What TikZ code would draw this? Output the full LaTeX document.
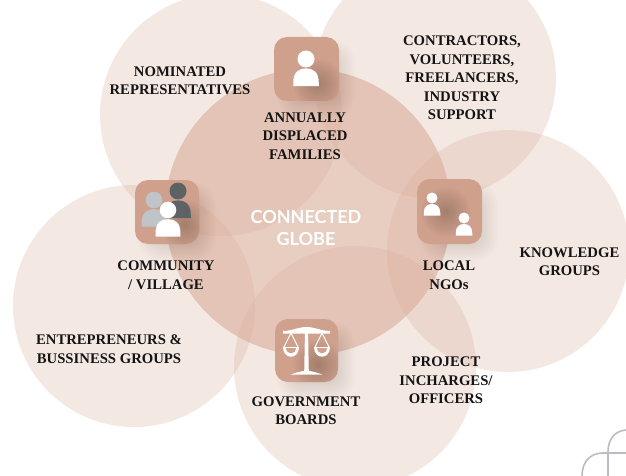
\documentclass[tikz,border=0pt]{standalone}
\usepackage{fontspec}
\setmainfont{Liberation Serif}
\newfontfamily\latofont{Lato}
\usetikzlibrary{calc}
\definecolor{tilec}{HTML}{CFA08C}
\definecolor{blobc}{HTML}{D9AC98}
\definecolor{darkp}{HTML}{5F6265}
\definecolor{lightp}{HTML}{BEC4C8}
\definecolor{logoc}{HTML}{BDBBC6}
\tikzset{
  x=1pt,y=-1pt,
  outer/.style={circle,fill=blobc,fill opacity=0.27,inner sep=0,minimum size=242pt},
  core/.style={circle,fill=blobc,fill opacity=0.6,inner sep=0,minimum size=286pt},
  lab/.style={font=\bfseries\fontsize{14.7}{18.5}\selectfont,align=center,text=black!92,inner sep=0},
  tile/.style={fill=tilec,rounded corners=13pt},
}
\newcommand{\softshadow}[2]{%
  \foreach \k in {0,...,13}{
    \fill[black,opacity=0.009,rounded corners={10pt+\k*1pt}]
      ($(#1,#2)+({-20-\k*1.5},{-20-\k*1.5})$) rectangle ($(#1,#2)+({20+\k*1.5},{20+\k*1.5})$);
  }}
\newcommand{\innershade}[6]{%
  \begin{scope}
  \clip[rounded corners=13pt] (#1,#2) rectangle (#3,#4);
  \foreach \k in {0,...,9}{\fill[black,opacity=0.02] (#5,#6) circle[radius={3+\k*2.4}];}
  \end{scope}}
\newcommand{\personicon}[4]{%
  \fill[#4] (#1,#2) circle[radius=#3];
  \fill[#4] ({#1-1.5*#3},{#2+3.2*#3}) -- ({#1-1.5*#3},{#2+2.75*#3})
     .. controls ({#1-1.5*#3},{#2+1.5*#3}) and ({#1-0.8*#3},{#2+1.1*#3}) .. (#1,{#2+1.1*#3})
     .. controls ({#1+0.8*#3},{#2+1.1*#3}) and ({#1+1.5*#3},{#2+1.5*#3}) .. ({#1+1.5*#3},{#2+2.75*#3})
     -- ({#1+1.5*#3},{#2+3.2*#3}) -- cycle;}
\begin{document}
\begin{tikzpicture}
\useasboundingbox (0,0) rectangle (626,476);
\fill[white] (0,0) rectangle (626,476);
\begin{scope}
\clip (0,0) rectangle (626,476);
\node[outer] (c1) at (221,115) {};
\node[outer] (c2) at (435,78) {};
\node[outer] (c3) at (508,251) {};
\node[outer] (c4) at (355,367) {};
\node[outer] (c5) at (134,306) {};
\node[core] (c0) at (308,212) {};
\draw[logoc,line width=1.6pt] (626,430) .. controls (614,431) and (608,440) .. (608,452) -- (608,476);
\draw[logoc,line width=1.6pt] (582,476) .. controls (582,462) and (590,453) .. (603,453) -- (626,453);
\end{scope}
% shadows
\softshadow{316}{79}
\softshadow{177}{222}
\softshadow{459}{222}
\softshadow{316}{361}
% tiles
\fill[tile] (274,37) rectangle (339,101);
\fill[tile] (135,180) rectangle (199,244);
\fill[tile] (417,179) rectangle (482,244);
\fill[tile] (275,319) rectangle (338,382);
\innershade{274}{37}{339}{101}{318}{84}
\innershade{135}{180}{199}{244}{185}{225}
\innershade{417}{179}{482}{244}{446}{212}
\innershade{275}{319}{338}{382}{318}{365}
% icons
\personicon{306}{59}{8.5}{white}
\personicon{178}{191}{8.5}{darkp}
\personicon{154}{200}{8.3}{lightp}
\personicon{168}{210}{8.3}{white}
\personicon{432}{198}{5.5}{white}
\personicon{464}{218}{5.5}{white}
% scales
\fill[white] (283,331) .. controls (292,331) and (298,327) .. (306.5,327) .. controls (315,327) and (321,331) .. (330,331) -- (330,333.5) -- (283,333.5) -- cycle;
\fill[white] (305,330) -- (308,330) -- (308.8,372) -- (304.2,372) -- cycle;
\fill[white] (291,374.5) .. controls (296,372.5) and (300,371.5) .. (304,371) -- (309,371) .. controls (313,371.5) and (317,372.5) .. (322,374.5) -- cycle;
\draw[white,line width=1.1pt,line join=round] (283.5,348) -- (291,333) -- (298.5,348);
\draw[white,line width=1.1pt,line join=round] (314.5,348) -- (322,333) -- (329.5,348);
\fill[white] (283,347) -- (299,347) .. controls (299,360) and (283,360) .. (283,347) -- cycle;
\fill[white] (314,347) -- (330,347) .. controls (330,360) and (314,360) .. (314,347) -- cycle;
\fill[tilec] (286,348.2) -- (296,348.2) .. controls (295.5,355) and (286.5,355) .. (286,348.2) -- cycle;
\fill[tilec] (317,348.2) -- (327,348.2) .. controls (326.5,355) and (317.5,355) .. (317,348.2) -- cycle;
% labels
\node[lab] (t1) at (180,80.5) {NOMINATED\\REPRESENTATIVES};
\node[lab] (t2) at (462,78) {CONTRACTORS,\\VOLUNTEERS,\\FREELANCERS,\\INDUSTRY\\SUPPORT};
\node[lab] (t3) at (305,136) {ANNUALLY\\DISPLACED\\FAMILIES};
\node[lab] (t4) at (166,275) {COMMUNITY\\/ VILLAGE};
\node[lab] (t5) at (449,275) {LOCAL\\NGOs};
\node[lab] (t6) at (569.5,261.5) {KNOWLEDGE\\GROUPS};
\node[lab] (t7) at (109,349) {ENTREPRENEURS \&\\BUSSINESS GROUPS};
\node[lab] (t8) at (446,380.5) {PROJECT\\INCHARGES/\\OFFICERS};
\node[lab] (t9) at (306,410.5) {GOVERNMENT\\BOARDS};
\node[align=center,text=white,inner sep=0,font=\latofont\bfseries\fontsize{18}{22.5}\selectfont] (t0) at (306,228) {CONNECTED\\GLOBE};
\end{tikzpicture}
\end{document}
